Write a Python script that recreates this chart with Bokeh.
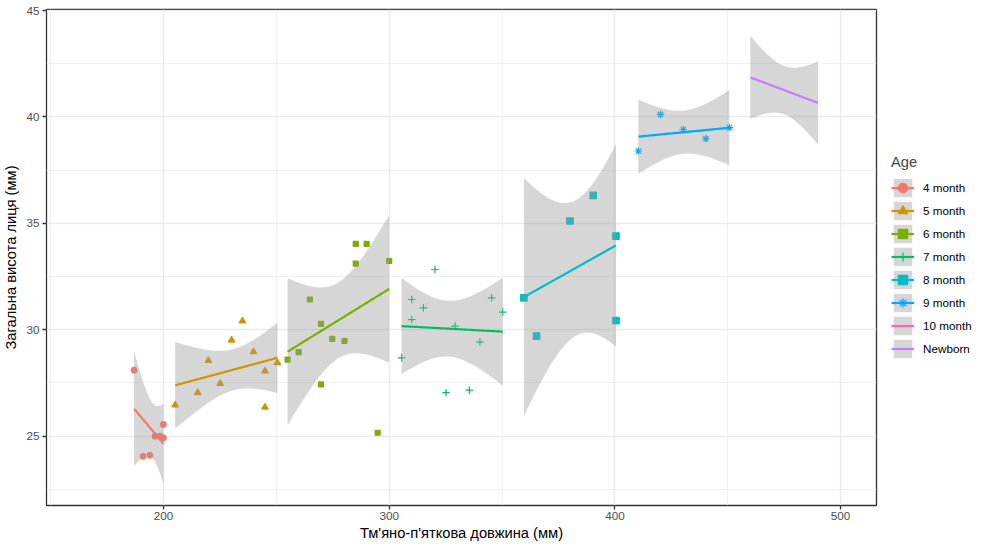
import numpy as np
from bokeh.plotting import figure
from bokeh.models import (ColumnDataSource, Legend, LegendItem, Range1d,
                          FixedTicker)
from bokeh.embed import file_html
from bokeh.resources import INLINE

# ---------------- data ----------------
groups = ["4 month", "5 month", "6 month", "7 month", "8 month",
          "9 month", "10 month", "Newborn"]
colors = ["#F8766D", "#CD9600", "#7CAE00", "#00BE67", "#00BFC4",
          "#00A9FF", "#FF61CC", "#C77CFF"]
markers = ["circle", "triangle", "square", "cross", "square_x",
           "asterisk", None, None]
msizes = [5.5, 6.5, 5, 7.5, 6.5, 7.5, 0, 0]

m4_x = [187.0, 191.0, 194.0, 196.3, 198.5, 200.0, 200.0]
m4_y = [28.10, 24.05, 24.10, 25.00, 25.00, 25.55, 24.92]

m5_x = [205.2, 215.2, 219.9, 225.1, 230.2, 235.0, 239.9, 245.0, 245.0, 250.5]
m5_y = [26.46, 27.04, 28.55, 27.47, 29.51, 30.41, 28.96, 28.06, 26.36, 28.45]

m6_x = [255.0, 259.9, 264.9, 269.8, 269.8, 274.8, 280.2, 285.2, 285.2, 290.0,
        294.9, 300.0]
m6_y = [28.60, 28.95, 31.42, 30.28, 27.43, 29.57, 29.47, 34.04, 33.11, 34.04,
        25.16, 33.23]

m7_x = [305.5, 310.0, 310.0, 315.2, 320.3, 325.2, 329.2, 335.5, 340.2, 345.4,
        350.3]
m7_y = [28.68, 31.42, 30.48, 31.03, 32.83, 27.04, 30.17, 27.16, 29.42, 31.50,
        30.83]

m8_x = [359.7, 365.3, 380.1, 390.4, 400.5, 400.5]
m8_y = [31.50, 29.70, 35.11, 36.31, 34.40, 30.43]

m9_x = [410.4, 420.2, 430.3, 440.3, 450.7]
m9_y = [38.40, 40.12, 39.41, 38.98, 39.50]

m10_x = [np.nan]
m10_y = [np.nan]

nb_x = [460, 467, 475, 483, 490]
nb_y = [42.23, 40.84, 42.00, 40.20, 41.03]

xs_all = [m4_x, m5_x, m6_x, m7_x, m8_x, m9_x, m10_x, nb_x]
ys_all = [m4_y, m5_y, m6_y, m7_y, m8_y, m9_y, m10_y, nb_y]

x_ticks = [200, 300, 400, 500]
x_minor = [150, 250, 350, 450]
y_ticks = [25, 30, 35, 40, 45]
y_minor = [22.5, 27.5, 32.5, 37.5, 42.5]

x_title = "Тм'яно-п'яткова довжина (мм)"
y_title = "Загальна висота лиця (мм)"
legend_title = "Age"

# 0.975 quantiles of Student t
T975 = {1: 12.706, 2: 4.303, 3: 3.182, 4: 2.776, 5: 2.571, 6: 2.447,
        7: 2.365, 8: 2.306, 9: 2.262, 10: 2.228, 11: 2.201, 12: 2.179,
        13: 2.160, 14: 2.145, 15: 2.131, 16: 2.120, 17: 2.110, 18: 2.101}


def lm_band(x, y, n=80):
    x = np.asarray(x, float)
    y = np.asarray(y, float)
    ok = ~np.isnan(x)
    x, y = x[ok], y[ok]
    if len(x) < 3:
        nan = np.array([np.nan])
        return nan, nan, nan, nan
    b, a = np.polyfit(x, y, 1)
    xs = np.linspace(x.min(), x.max(), n)
    fit = a + b * xs
    resid = y - (a + b * x)
    dof = len(x) - 2
    s = np.sqrt((resid ** 2).sum() / dof)
    sxx = ((x - x.mean()) ** 2).sum()
    se = s * np.sqrt(1.0 / len(x) + (xs - x.mean()) ** 2 / sxx)
    t = T975[dof]
    return xs, fit, fit - t * se, fit + t * se


FONT = "Liberation Sans"

p = figure(frame_width=830, frame_height=496,
           x_range=Range1d(148.2, 515.9), y_range=Range1d(21.74, 45.05),
           output_backend="svg", toolbar_location=None,
           min_border_left=45, min_border_top=9, min_border_right=0,
           min_border_bottom=30)
p.background_fill_color = "white"
p.border_fill_color = "white"
p.outline_line_color = "#333333"
p.outline_line_width = 1.3

p.xaxis.ticker = FixedTicker(ticks=x_ticks, minor_ticks=x_minor)
p.yaxis.ticker = FixedTicker(ticks=y_ticks, minor_ticks=y_minor)
for ax in (p.xaxis, p.yaxis):
    ax.axis_line_color = None
    ax.major_tick_line_color = "#333333"
    ax.major_tick_line_width = 1.3
    ax.major_tick_out = 4
    ax.major_tick_in = 0
    ax.minor_tick_line_color = None
    ax.major_label_text_font = FONT
    ax.major_label_text_font_size = "11.7px"
    ax.major_label_text_color = "#4D4D4D"
    ax.axis_label_text_font = FONT
    ax.axis_label_text_font_size = "14.7px"
    ax.axis_label_text_font_style = "normal"
    ax.axis_label_text_color = "black"
    ax.major_label_standoff = 3
    ax.axis_label_standoff = 4
p.xaxis.axis_label = x_title
p.yaxis.axis_label = y_title
p.xaxis.major_label_standoff = 2
p.xaxis.axis_label_standoff = 2

for g in (p.xgrid, p.ygrid):
    g.grid_line_color = "#EBEBEB"
    g.grid_line_width = 1.4
    g.minor_grid_line_color = "#EBEBEB"
    g.minor_grid_line_width = 0.7

# points first (ggplot draws the smooth ribbons over them)
point_r = []
for i, g in enumerate(groups):
    src = ColumnDataSource(dict(x=xs_all[i], y=ys_all[i]))
    if markers[i] is not None:
        r = p.scatter("x", "y", source=src, marker=markers[i], size=msizes[i],
                      color=colors[i], line_width=1.2)
        point_r.append(r)
    else:
        point_r.append(None)

items = []
for i, g in enumerate(groups):
    xs, fit, lo, hi = lm_band(xs_all[i], ys_all[i])
    bsrc = ColumnDataSource(dict(x=xs, lo=lo, hi=hi, fit=fit))
    band = p.varea(x="x", y1="lo", y2="hi", source=bsrc,
                   fill_color="#999999", fill_alpha=0.4)
    line = p.line(x="x", y="fit", source=bsrc, line_color=colors[i],
                  line_width=2.2)
    rends = [band, line]
    if point_r[i] is not None:
        rends.append(point_r[i])
    items.append(LegendItem(label=g, renderers=rends))

legend = Legend(items=items, title=legend_title, location="center_left",
                orientation="vertical")
legend.title_text_font = FONT
legend.title_text_font_size = "14.7px"
legend.title_text_font_style = "normal"
legend.title_standoff = 6
legend.label_text_font = FONT
legend.label_text_font_size = "11.7px"
legend.label_text_color = "black"
legend.glyph_width = 23
legend.glyph_height = 23
legend.label_height = 23
legend.spacing = 0
legend.label_standoff = 9
legend.margin = 15
legend.padding = 7
legend.border_line_color = None
legend.background_fill_alpha = 0
p.add_layout(legend, "right")

open("out.html", "w").write(file_html(p, INLINE))
